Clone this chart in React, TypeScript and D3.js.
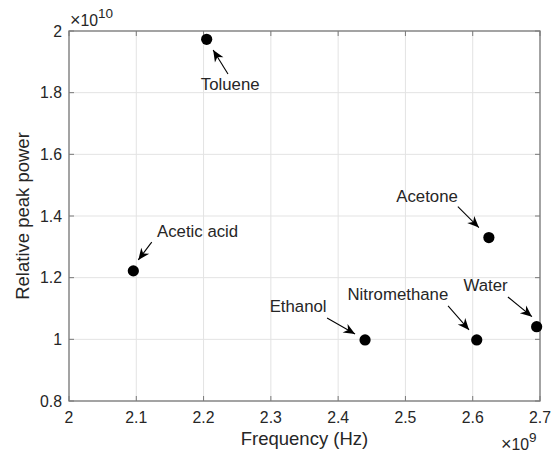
import React from "react";
import * as d3 from "d3";

const names = ["Toluene", "Acetic acid", "Ethanol", "Nitromethane", "Acetone", "Water"];
const freqs = [2.2046e9, 2.0956e9, 2.44e9, 2.606e9, 2.624e9, 2.695e9];
const powers = [1.973e10, 1.222e10, 0.998e10, 0.998e10, 1.33e10, 1.041e10];

const xTicks = [2, 2.1, 2.2, 2.3, 2.4, 2.5, 2.6, 2.7];
const yTicks = [0.8, 1, 1.2, 1.4, 1.6, 1.8, 2];

// annotation layout (pixel offsets from the point): tip, tail, text position, anchor
const tipOff: [number, number][] = [[6.5, 10.7], [5, -11], [-10, -6], [-7.7, -10], [-10, -10], [-4.7, -10]];
const tailOff: [number, number][] = [[21.3, 34.7], [18.4, -28.7], [-38, -22], [-28.7, -34], [-31, -31], [-28.7, -29.7]];
const textOff: [number, number][] = [[23.5, 51], [23.7, -34.3], [-38.5, -28], [-28.5, -40], [-31, -36], [-29, -35.7]];
const anchors = ["middle", "start", "end", "end", "end", "end"];

const W = 559, H = 454;
const L = 69, T = 31, R = 540, B = 401;
const font = "'Liberation Sans', Arial, Helvetica, sans-serif";
const axisColor = "#7a7a7a";
const textColor = "#262626";

function arrowHead(tip: [number, number], tail: [number, number]) {
  const dx = tip[0] - tail[0], dy = tip[1] - tail[1];
  const len = Math.hypot(dx, dy);
  const ux = dx / len, uy = dy / len;
  const nx = -uy, ny = ux;
  const hl = 11.5, hw = 5;
  const p1 = [tip[0] - hl * ux + hw * nx, tip[1] - hl * uy + hw * ny];
  const p2 = [tip[0] - 0.7 * hl * ux, tip[1] - 0.7 * hl * uy];
  const p3 = [tip[0] - hl * ux - hw * nx, tip[1] - hl * uy - hw * ny];
  return `M${tip[0]},${tip[1]}L${p1[0]},${p1[1]}L${p2[0]},${p2[1]}L${p3[0]},${p3[1]}Z`;
}

export default function App() {
  const x = d3.scaleLinear().domain([2e9, 2.7e9]).range([L, R]);
  const y = d3.scaleLinear().domain([0.8e10, 2e10]).range([B, T]);
  const tl = 5;
  return (
    <svg width={W} height={H} style={{ position: "absolute", left: 0, top: 0, background: "#fff" }} fontFamily={font}>
      <rect x={0} y={0} width={W} height={H} fill="#fff" />
      {/* grid */}
      {xTicks.map((t, i) => (
        <line key={"gx" + i} x1={x(t * 1e9)} x2={x(t * 1e9)} y1={T} y2={B} stroke="#e3e3e3" strokeWidth={1} />
      ))}
      {yTicks.map((t, i) => (
        <line key={"gy" + i} x1={L} x2={R} y1={y(t * 1e10)} y2={y(t * 1e10)} stroke="#e3e3e3" strokeWidth={1} />
      ))}
      {/* ticks */}
      {xTicks.map((t, i) => (
        <g key={"tx" + i}>
          <line x1={x(t * 1e9)} x2={x(t * 1e9)} y1={B} y2={B - tl} stroke={axisColor} />
          <line x1={x(t * 1e9)} x2={x(t * 1e9)} y1={T} y2={T + tl} stroke={axisColor} />
          <text x={x(t * 1e9)} y={B + 22} textAnchor="middle" fontSize={15.8} fill={textColor}>{d3.format("")(t)}</text>
        </g>
      ))}
      {yTicks.map((t, i) => (
        <g key={"ty" + i}>
          <line x1={L} x2={L + tl} y1={y(t * 1e10)} y2={y(t * 1e10)} stroke={axisColor} />
          <line x1={R} x2={R - tl} y1={y(t * 1e10)} y2={y(t * 1e10)} stroke={axisColor} />
          <text x={L - 7} y={y(t * 1e10)} dy="0.36em" textAnchor="end" fontSize={15.8} fill={textColor}>{d3.format("")(t)}</text>
        </g>
      ))}
      <rect x={L} y={T} width={R - L} height={B - T} fill="none" stroke={axisColor} strokeWidth={1.3} />
      {/* exponents */}
      <text x={70} y={26} fontSize={15.8} fill={textColor}><tspan fontSize={18} fontWeight={300}>×</tspan>10<tspan dy={-8} fontSize={13.5}>10</tspan></text>
      <text x={501} y={450} fontSize={15.8} fill={textColor}><tspan fontSize={18} fontWeight={300}>×</tspan>10<tspan dy={-8} fontSize={13.5}>9</tspan></text>
      {/* axis labels */}
      <text x={(L + R) / 2} y={445} textAnchor="middle" fontSize={18.5} fill={textColor}>Frequency (Hz)</text>
      <text transform={`translate(29,${(T + B) / 2}) rotate(-90)`} textAnchor="middle" fontSize={18.5} fill={textColor}>Relative peak power</text>
      {/* points */}
      {names.map((n, i) => (
        <circle key={"p" + i} cx={x(freqs[i])} cy={y(powers[i])} r={5.6} fill="#000" />
      ))}
      {/* annotations */}
      {names.map((n, i) => {
        const px = x(freqs[i]), py = y(powers[i]);
        const tip: [number, number] = [px + tipOff[i][0], py + tipOff[i][1]];
        const tail: [number, number] = [px + tailOff[i][0], py + tailOff[i][1]];
        return (
          <g key={"a" + i}>
            <line x1={tail[0]} y1={tail[1]} x2={tip[0]} y2={tip[1]} stroke="#000" strokeWidth={1.1} />
            <path d={arrowHead(tip, tail)} fill="#000" />
            <text x={px + textOff[i][0]} y={py + textOff[i][1]} textAnchor={anchors[i]} fontSize={16.8} fill={textColor}>{n}</text>
          </g>
        );
      })}
    </svg>
  );
}
